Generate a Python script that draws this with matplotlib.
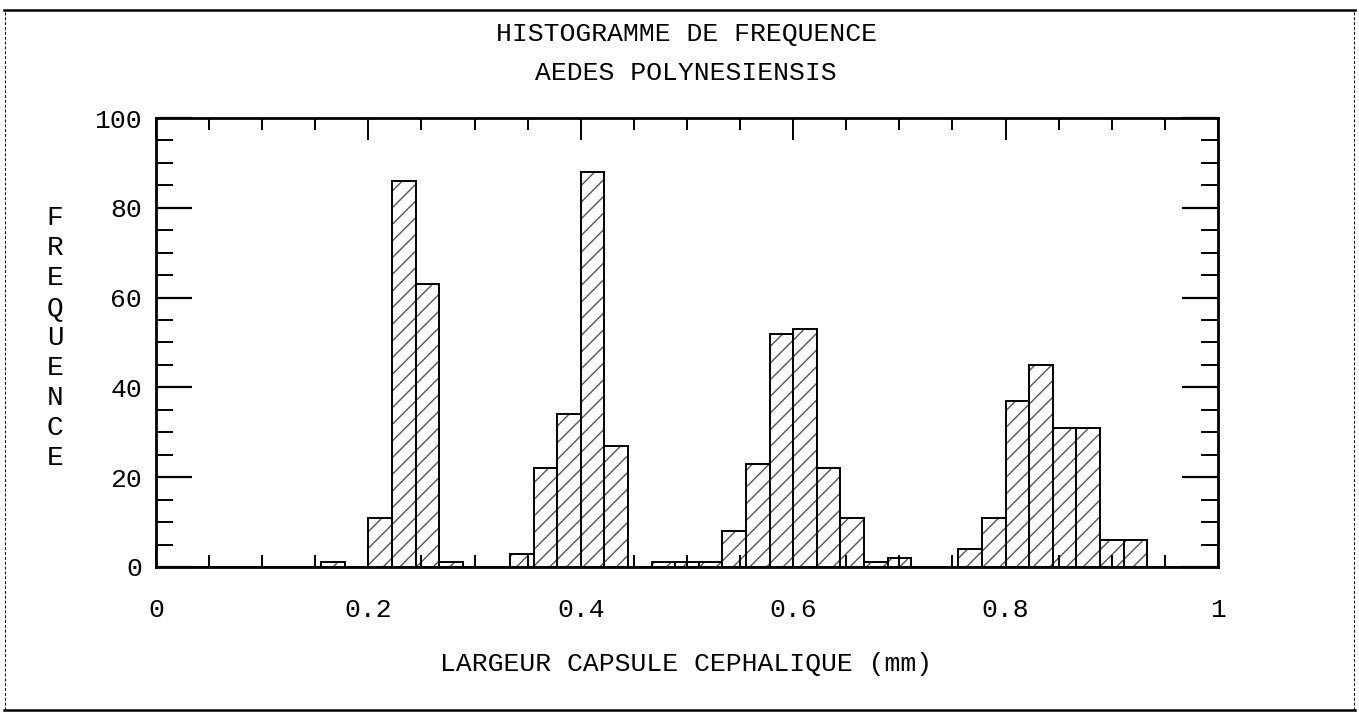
import matplotlib
matplotlib.use("Agg")
import matplotlib.pyplot as plt
from matplotlib.ticker import MultipleLocator
from matplotlib.lines import Line2D
import numpy as np

# histogram data: 45 classes of equal width between 0 and 1 mm
n_bins = 45
counts = [0, 0, 0, 0, 0, 0, 0, 1, 0,
          11, 86, 63, 1, 0, 0,
          3, 22, 34, 88, 27, 0,
          1, 1, 1,
          8, 23, 52, 53, 22, 11, 1, 2, 0, 0,
          4, 11, 37, 45, 31, 31, 6, 6,
          0, 0, 0]
xticks = [0, 0.2, 0.4, 0.6, 0.8, 1]
xtick_labels = ["0", "0.2", "0.4", "0.6", "0.8", "1"]
yticks = [0, 20, 40, 60, 80, 100]

title1 = "HISTOGRAMME DE FREQUENCE"
title2 = "AEDES POLYNESIENSIS"
xlabel = "LARGEUR CAPSULE CEPHALIQUE (mm)"
ylabel = "FREQUENCE"

plt.rcParams['font.family'] = ['Liberation Mono', 'DejaVu Sans Mono']
plt.rcParams['hatch.linewidth'] = 1.0

fig = plt.figure(figsize=(13.59, 7.13), dpi=100)
ax = fig.add_axes([0.1148, 0.2048, 0.7814, 0.6297])

width = 1.0 / n_bins
left = np.arange(n_bins) * width
# hatch layer in grey, then black outlines on top
ax.bar(left, counts, width=width, align='edge', color='white',
       edgecolor='#555555', hatch='//', linewidth=0)
ax.bar(left, counts, width=width, align='edge', fill=False,
       edgecolor='black', linewidth=1.4)

ax.set_xlim(0, 1)
ax.set_ylim(0, 100)
ax.set_xticks(xticks)
ax.set_xticklabels(xtick_labels)
ax.xaxis.set_minor_locator(MultipleLocator(0.05))
ax.set_yticks(yticks)
ax.yaxis.set_minor_locator(MultipleLocator(5))

ax.tick_params(axis='x', which='major', direction='in', length=16, width=1.4,
               top=True, bottom=True, labelsize=19, pad=22)
ax.tick_params(axis='x', which='minor', direction='in', length=8.5, width=1.4,
               top=True, bottom=True)
ax.tick_params(axis='y', which='major', direction='in', length=26, width=1.6,
               left=True, right=True, labelsize=19, pad=10)
ax.tick_params(axis='y', which='minor', direction='in', length=12, width=1.4,
               left=True, right=True)
for s in ax.spines.values():
    s.set_linewidth(2.0)

fig.text(0.505, 0.952, title1, ha='center', va='center', fontsize=19)
fig.text(0.505, 0.898, title2, ha='center', va='center', fontsize=19)
fig.text(0.505, 0.0687, xlabel, ha='center', va='center', fontsize=19)
fig.text(0.0405, 0.526, "\n".join(ylabel), ha='center', va='center',
         fontsize=20, linespacing=1.2)

# outer border of the printed sheet
fig.add_artist(Line2D([0.003, 0.997], [0.986, 0.986], transform=fig.transFigure,
                      color='black', linewidth=1.8))
fig.add_artist(Line2D([0.003, 0.997], [0.004, 0.004], transform=fig.transFigure,
                      color='black', linewidth=1.8))
fig.add_artist(Line2D([0.004, 0.004], [0.004, 0.986], transform=fig.transFigure,
                      color='black', linewidth=0.7, linestyle=(0, (3, 2))))
fig.add_artist(Line2D([0.996, 0.996], [0.004, 0.986], transform=fig.transFigure,
                      color='black', linewidth=0.7, linestyle=(0, (3, 2))))

fig.savefig("out.png", dpi=100)
